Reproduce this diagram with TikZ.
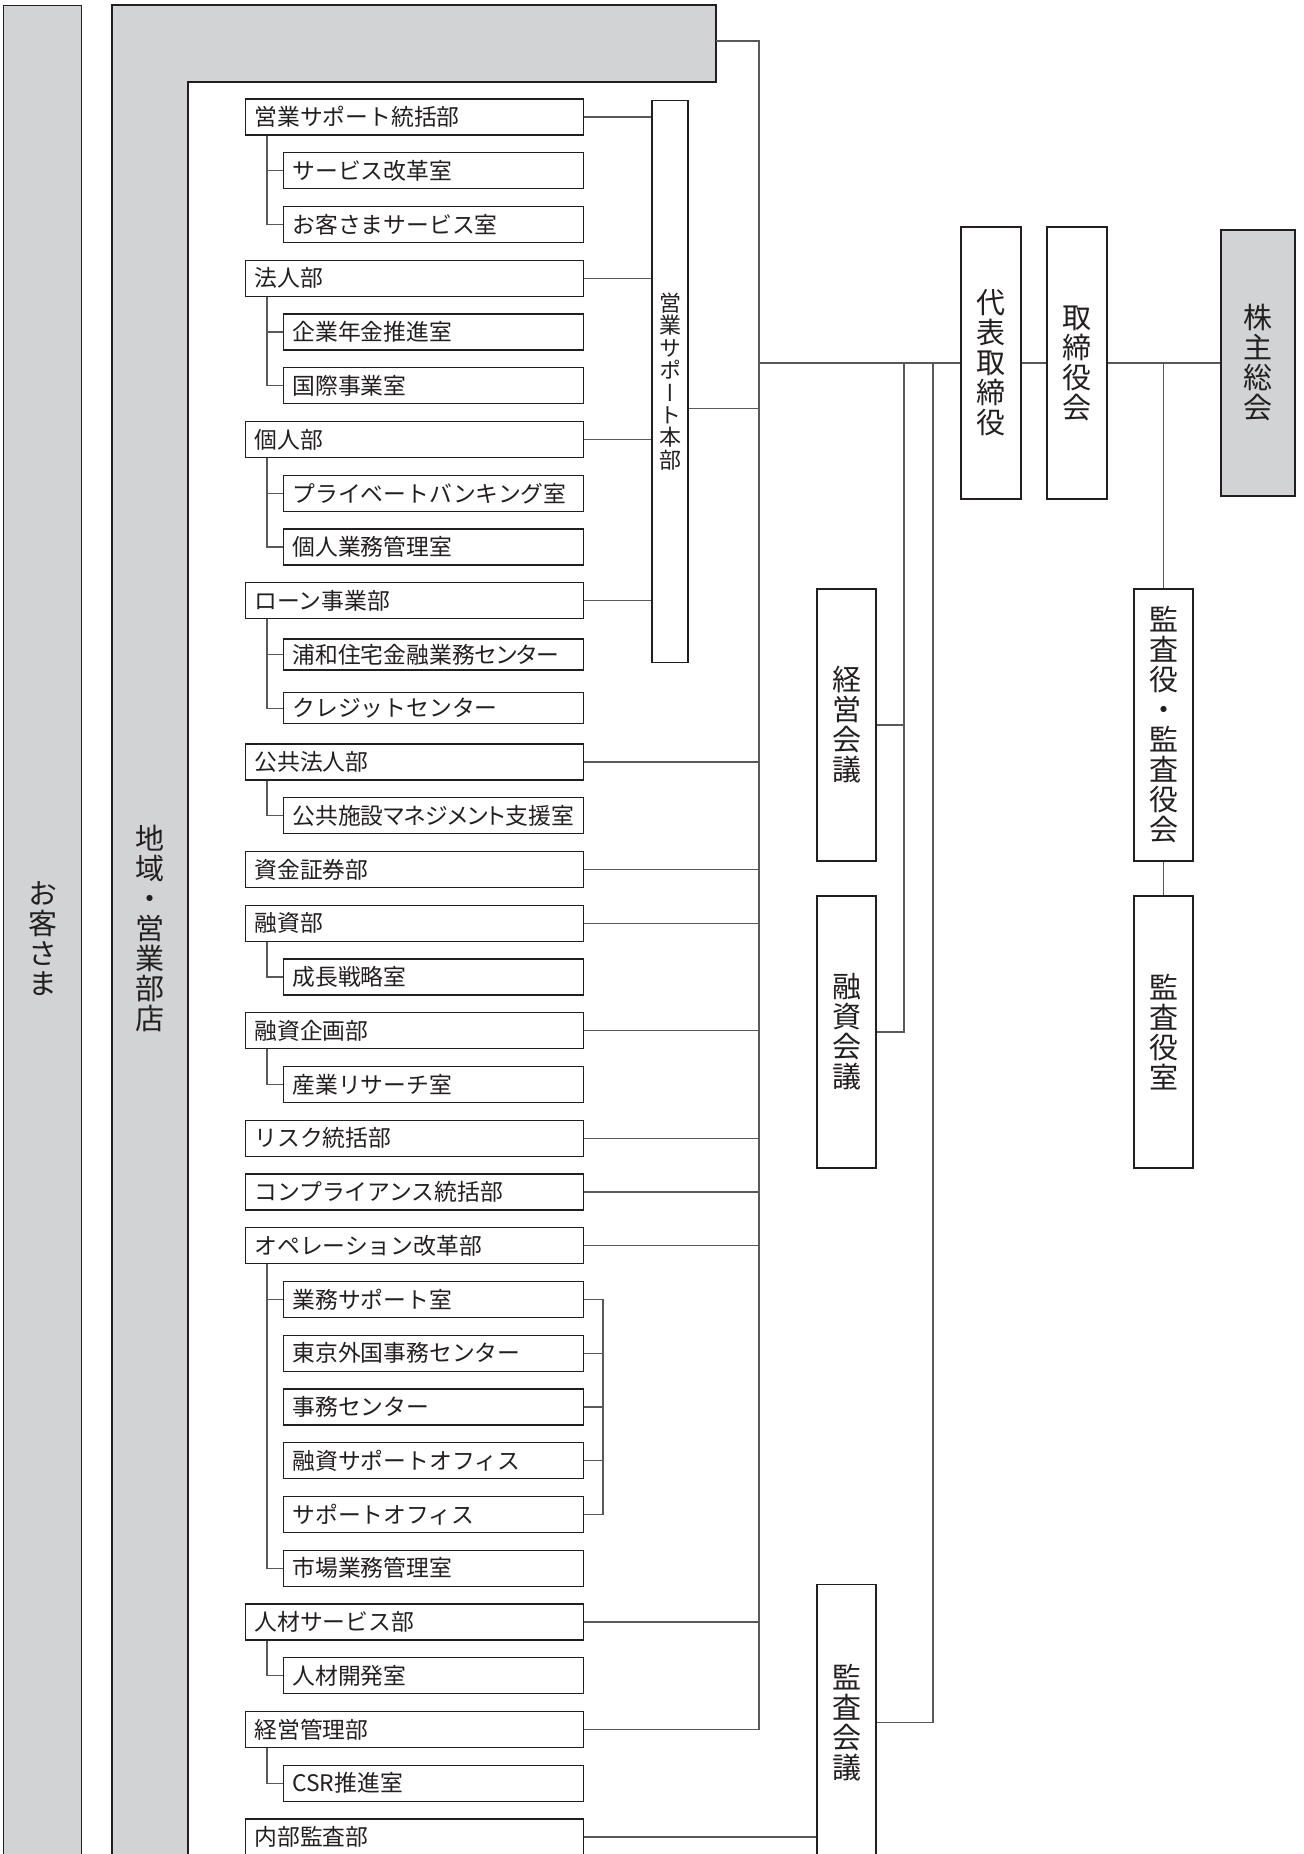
\documentclass[tikz,border=0pt]{standalone}
\usepackage{fontspec}
\setmainfont{Noto Sans CJK JP}
\newfontfamily\tatefont{Noto Sans CJK JP}[RawFeature=+vert]
\newcommand\narrowkana{\addfontfeature{RawFeature=+palt}}
\usepackage{xcolor}
\definecolor{panel}{HTML}{D1D3D4}
\definecolor{wire}{HTML}{58595B}
\definecolor{ink}{HTML}{231F20}
\usepackage{tikz}
\usetikzlibrary{positioning}
\tikzset{
    unit/.style={
        rectangle, draw=ink, line width=0.6pt,
        text=ink,
        inner xsep=4.5pt, inner ysep=0pt,
        minimum height=18pt,
        align=left,
        font=\fontsize{11.4}{13}\selectfont
    },
    dept/.style={
        unit,
        text width=160pt
    },
    sect/.style={
        unit,
        text width=141pt
    },
    slim/.style={
        sect,
        minimum height=15.5pt
    },
    vtext/.style={
        text=ink, inner sep=0pt, align=center,
        font=\tatefont\fontsize{14.5}{15}\selectfont
    },
    pillar/.style={
        vtext,
        rectangle, draw=ink, line width=0.6pt,
        minimum width=30pt, minimum height=136pt
    },
    stock/.style={
        pillar,
        fill=panel
    },
    conn/.style={
        draw=wire, line width=0.6pt
    },
}
\begin{document}
\begin{tikzpicture}
            [x=0.5pt, y=-0.5pt, node distance=26.875pt, on grid]
            \useasboundingbox (0,0) rectangle (1303,1854);
            \clip (0,0) rectangle (1303,1854);

            % Draw customer and branch columns
            \node[stock, anchor=north west, minimum width=39pt, minimum height=932.5pt] (okyakusama) at (3,5) {お\\客\\さ\\ま};
            \draw[draw=ink, line width=0.6pt, fill=panel] (112,5) -- (716,5) -- (716,82) -- (188,82) -- (188,1880) -- (112,1880) -- cycle;
            \node[vtext] (chiiki) at (150,928) {地\\域\\・\\営\\業\\部\\店};
            \coordinate (chiiki-e) at (716,41);

            % Draw departments, top to bottom
            \node[dept, anchor=east] (eigyo) at (584,117) {営業サポート統括部};
            \node[sect, below=of eigyo.east, anchor=east] (kaikaku) {サービス改革室};
            \node[sect, below=of kaikaku.east, anchor=east] (okyaku) {お客さまサービス室};
            \node[dept, below=of okyaku.east, anchor=east] (houjin) {法人部};
            \node[sect, below=of houjin.east, anchor=east] (nenkin) {企業年金推進室};
            \node[sect, below=of nenkin.east, anchor=east] (kokusai) {国際事業室};
            \node[dept, below=of kokusai.east, anchor=east] (kojin) {個人部};
            \node[sect, below=of kojin.east, anchor=east] (private) {プライベートバンキング室};
            \node[sect, below=of private.east, anchor=east] (kojinkanri) {個人業務管理室};
            \node[dept, below=of kojinkanri.east, anchor=east] (loan) {ローン事業部};
            \node[slim, below=of loan.east, anchor=east] (urawa) {\narrowkana 浦和住宅金融業務センター};
            \node[slim, below=of urawa.east, anchor=east] (credit) {クレジットセンター};
            \node[dept, below=of credit.east, anchor=east] (koukyou) {公共法人部};
            \node[sect, below=of koukyou.east, anchor=east] (shisetsu) {\narrowkana 公共施設マネジメント支援室};
            \node[dept, below=of shisetsu.east, anchor=east] (shikin) {資金証券部};
            \node[dept, below=of shikin.east, anchor=east] (yushi) {融資部};
            \node[sect, below=of yushi.east, anchor=east] (seicho) {成長戦略室};
            \node[dept, below=of seicho.east, anchor=east] (kikaku) {融資企画部};
            \node[sect, below=of kikaku.east, anchor=east] (research) {産業リサーチ室};
            \node[dept, below=of research.east, anchor=east] (risk) {リスク統括部};
            \node[dept, below=of risk.east, anchor=east] (compliance) {コンプライアンス統括部};
            \node[dept, below=of compliance.east, anchor=east] (ops) {オペレーション改革部};
            \node[sect, below=of ops.east, anchor=east] (gyomu) {業務サポート室};
            \node[sect, below=of gyomu.east, anchor=east] (tokyo) {東京外国事務センター};
            \node[sect, below=of tokyo.east, anchor=east] (jimu) {事務センター};
            \node[sect, below=of jimu.east, anchor=east] (yushisup) {融資サポートオフィス};
            \node[sect, below=of yushisup.east, anchor=east] (support) {サポートオフィス};
            \node[sect, below=of support.east, anchor=east] (shijo) {市場業務管理室};
            \node[dept, below=of shijo.east, anchor=east] (jinzai) {人材サービス部};
            \node[sect, below=of jinzai.east, anchor=east] (kaihatsu) {人材開発室};
            \node[dept, below=of kaihatsu.east, anchor=east] (keieikanri) {経営管理部};
            \node[sect, below=of keieikanri.east, anchor=east] (csr) {CSR推進室};
            \node[dept, below=of csr.east, anchor=east] (naibu) {内部監査部};

            % Draw sub-unit trees
            \coordinate (tree) at (267,0);
            \draw[conn] (eigyo.south -| tree) |- (okyaku.west);
            \draw[conn] (kaikaku.west -| tree) -- (kaikaku.west);
            \draw[conn] (houjin.south -| tree) |- (kokusai.west);
            \draw[conn] (nenkin.west -| tree) -- (nenkin.west);
            \draw[conn] (kojin.south -| tree) |- (kojinkanri.west);
            \draw[conn] (private.west -| tree) -- (private.west);
            \draw[conn] (loan.south -| tree) |- (credit.west);
            \draw[conn] (urawa.west -| tree) -- (urawa.west);
            \draw[conn] (koukyou.south -| tree) |- (shisetsu.west);
            \draw[conn] (yushi.south -| tree) |- (seicho.west);
            \draw[conn] (kikaku.south -| tree) |- (research.west);
            \draw[conn] (ops.south -| tree) |- (shijo.west);
            \draw[conn] (gyomu.west -| tree) -- (gyomu.west);
            \draw[conn] (jinzai.south -| tree) |- (kaihatsu.west);
            \draw[conn] (keieikanri.south -| tree) |- (csr.west);

            % Draw operations bracket
            \coordinate (bracket) at (603,0);
            \draw[conn] (gyomu.east) -- (gyomu.east -| bracket) |- (support.east);
            \draw[conn] (tokyo.east) -- (tokyo.east -| bracket);
            \draw[conn] (jimu.east) -- (jimu.east -| bracket);
            \draw[conn] (yushisup.east) -- (yushisup.east -| bracket);

            % Draw sales support division
            \node[pillar, anchor=north, minimum width=18pt, minimum height=281pt,
                  font=\tatefont\fontsize{11}{11.2}\selectfont] (honbu) at (670,100) {営\\業\\サ\\ポ\\ー\\ト\\本\\部};
            \draw[conn] (eigyo.east) -- (eigyo.east -| honbu.west);
            \draw[conn] (houjin.east) -- (houjin.east -| honbu.west);
            \draw[conn] (kojin.east) -- (kojin.east -| honbu.west);
            \draw[conn] (loan.east) -- (loan.east -| honbu.west);

            % Draw main trunk
            \coordinate (trunk) at (759,0);
            \draw[conn] (chiiki-e) -| (keieikanri.east -| trunk) -- (keieikanri.east);
            \draw[conn] ([yshift=-13.5pt]honbu.east) -- ([yshift=-13.5pt]honbu.east -| trunk);
            \draw[conn] (koukyou.east) -- (koukyou.east -| trunk);
            \draw[conn] (shikin.east) -- (shikin.east -| trunk);
            \draw[conn] (yushi.east) -- (yushi.east -| trunk);
            \draw[conn] (kikaku.east) -- (kikaku.east -| trunk);
            \draw[conn] (risk.east) -- (risk.east -| trunk);
            \draw[conn] (compliance.east) -- (compliance.east -| trunk);
            \draw[conn] (ops.east) -- (ops.east -| trunk);
            \draw[conn] (jinzai.east) -- (jinzai.east -| trunk);

            % Draw top management
            \node[pillar] (daihyo) at (991,363) {代\\表\\取\\締\\役};
            \node[pillar, right=43pt of daihyo] (torishimari) {取\\締\\役\\会};
            \node[stock, minimum width=37pt, minimum height=133pt, right=90.5pt of torishimari] (kabunushi) {株\\主\\総\\会};

            \draw[conn] (trunk |- daihyo.west) -- (daihyo.west);
            \draw[conn] (daihyo.east) -- (torishimari.west);
            \draw[conn] (torishimari.east) -- (kabunushi.west);

            % Draw committees
            \node[pillar, minimum width=29.5pt] (keieikaigi) at (846.5,725) {経\\営\\会\\議};
            \node[pillar, minimum width=29.5pt, below=153.5pt of keieikaigi] (yushikaigi) {融\\資\\会\\議};
            \node[pillar, anchor=north, minimum width=29.5pt, minimum height=138pt] (kansakaigi) at (846.5,1584) {監\\査\\会\\議};

            \coordinate (bus-a) at (904,363);
            \coordinate (bus-b) at (933,363);
            \draw[conn] (bus-a) |- (yushikaigi.east);
            \draw[conn] (keieikaigi.east) -- (keieikaigi.east -| bus-a);
            \draw[conn] (bus-b) |- (kansakaigi.east);
            \draw[conn] (naibu.east) -- (naibu.east -| kansakaigi.west);

            % Draw auditors
            \node[pillar, minimum width=29.5pt] (kansayaku) at (1163.5,725) {監\\査\\役\\・\\監\\査\\役\\会};
            \node[pillar, minimum width=29.5pt, below=153.5pt of kansayaku] (kansashitsu) {監\\査\\役\\室};

            \draw[conn] (kansayaku.north |- kabunushi.west) -- (kansayaku.north);
            \draw[conn] (kansayaku.south) -- (kansashitsu.north);

        \end{tikzpicture}
\end{document}
